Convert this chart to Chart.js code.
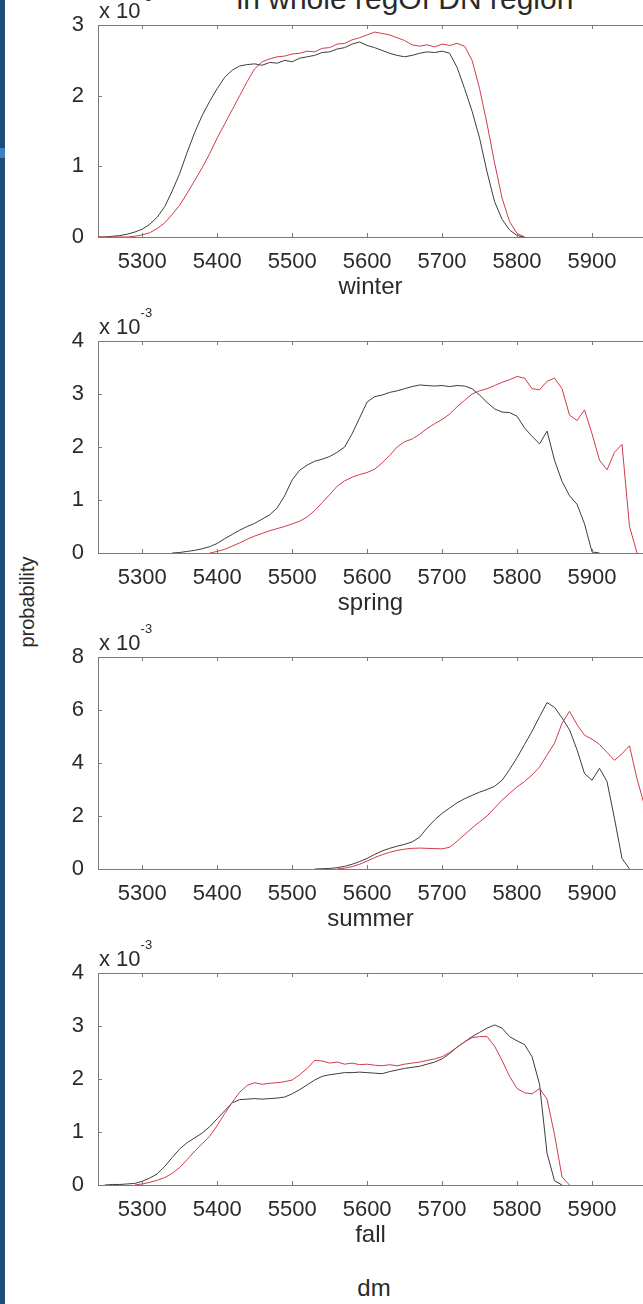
<!DOCTYPE html>
<html>
<head>
<meta charset="utf-8">
<title>probability by season</title>
<script src="https://cdn.jsdelivr.net/npm/chart.js@4.4.1/dist/chart.umd.min.js"></script>
<style>
    html, body { margin: 0; padding: 0; background: #fff; overflow: hidden; }
    #page { position: relative; width: 643px; height: 1304px; font-family: "Liberation Sans", Arial, sans-serif; color: #2a2a2a; }
    .strip { position: absolute; left: 0; top: 0; width: 5px; height: 1304px; background: #1e4d78; }
    .strip-light { position: absolute; left: 0; top: 148px; width: 5px; height: 10px; background: #3b82c4; }
    .panel { position: absolute; left: 0; width: 643px; height: 316px; }
    .panel canvas { position: absolute; left: 0; top: 0; }
    .expo { position: absolute; left: 99px; top: 0; font-size: 22px; line-height: 22px; white-space: nowrap; }
    .expo sup { position: relative; top: -17px; font-size: 13px; vertical-align: baseline; }
    .title { position: absolute; left: 205px; top: -16px; width: 400px; text-align: center; font-size: 30px; line-height: 30px; white-space: nowrap; }
    .ylab { position: absolute; left: 27px; top: 602px; transform: translate(-50%, -50%) rotate(-90deg); font-size: 20px; white-space: nowrap; }
    .xlab { position: absolute; left: 374px; top: 1288px; transform: translate(-50%, -50%); font-size: 24px; }
</style>
</head>
<body>
<div id="page">
    <div class="strip"></div>
    <div class="strip-light"></div>
    <div class="title">in whole regOf DN region</div>
    <div class="ylab">probability</div>
    <div class="xlab">dm</div>
</div>

<script>
// x grid (dm) shared by all four seasons
const dm = [
    5240, 5250, 5260, 5270, 5280, 5290, 5300, 5310, 5320, 5330,
    5340, 5350, 5360, 5370, 5380, 5390, 5400, 5410, 5420, 5430,
    5440, 5450, 5460, 5470, 5480, 5490, 5500, 5510, 5520, 5530,
    5540, 5550, 5560, 5570, 5580, 5590, 5600, 5610, 5620, 5630,
    5640, 5650, 5660, 5670, 5680, 5690, 5700, 5710, 5720, 5730,
    5740, 5750, 5760, 5770, 5780, 5790, 5800, 5810, 5820, 5830,
    5840, 5850, 5860, 5870, 5880, 5890, 5900, 5910, 5920, 5930,
    5940, 5950, 5960, 5970
];
const dmRange = [5241, 5968];
const dmTicks = [5300, 5400, 5500, 5600, 5700, 5800, 5900];
const seasons = ['winter', 'spring', 'summer', 'fall'];

// probability values, x 10^-3
const winterBlack = [
    0, 0, 0.01, 0.02, 0.04, 0.07, 0.11, 0.18, 0.28, 0.43,
    0.65, 0.90, 1.20, 1.48, 1.72, 1.92, 2.10, 2.26, 2.36, 2.42,
    2.44, 2.45, 2.43, 2.47, 2.46, 2.50, 2.48, 2.53, 2.55, 2.57,
    2.61, 2.62, 2.66, 2.68, 2.73, 2.76, 2.71, 2.68, 2.64, 2.60,
    2.57, 2.55, 2.57, 2.60, 2.62, 2.61, 2.63, 2.60, 2.40, 2.10,
    1.78, 1.40, 0.92, 0.50, 0.25, 0.10, 0.02, 0, null, null,
    null, null, null, null, null, null, null, null, null, null,
    null, null, null, null
];
const winterRed = [
    0, 0, 0, 0, 0, 0.01, 0.03, 0.06, 0.12, 0.20,
    0.32, 0.45, 0.62, 0.80, 0.98, 1.18, 1.40, 1.60, 1.80, 2.00,
    2.20, 2.38, 2.48, 2.52, 2.55, 2.56, 2.59, 2.60, 2.63, 2.62,
    2.67, 2.68, 2.73, 2.74, 2.79, 2.82, 2.86, 2.90, 2.88, 2.86,
    2.82, 2.78, 2.72, 2.70, 2.72, 2.69, 2.73, 2.71, 2.74, 2.70,
    2.50, 2.10, 1.60, 1.05, 0.55, 0.22, 0.05, 0, null, null,
    null, null, null, null, null, null, null, null, null, null,
    null, null, null, null
];
const springBlack = [
    null, null, null, null, null, null, null, null, null, null,
    0, 0.01, 0.03, 0.05, 0.08, 0.12, 0.18, 0.27, 0.35, 0.43,
    0.50, 0.56, 0.64, 0.72, 0.85, 1.08, 1.38, 1.56, 1.66, 1.73,
    1.77, 1.82, 1.90, 2.00, 2.25, 2.55, 2.85, 2.95, 2.98, 3.03,
    3.06, 3.10, 3.14, 3.17, 3.16, 3.15, 3.16, 3.14, 3.16, 3.15,
    3.10, 2.98, 2.84, 2.72, 2.66, 2.65, 2.58, 2.36, 2.20, 2.06,
    2.30, 1.75, 1.35, 1.08, 0.92, 0.55, 0.02, 0, null, null,
    null, null, null, null
];
const springRed = [
    null, null, null, null, null, null, null, null, null, null,
    null, null, null, null, null, 0, 0.03, 0.07, 0.13, 0.19,
    0.26, 0.32, 0.37, 0.42, 0.46, 0.50, 0.55, 0.60, 0.68, 0.80,
    0.95, 1.10, 1.26, 1.36, 1.43, 1.48, 1.52, 1.58, 1.70, 1.84,
    2.00, 2.10, 2.15, 2.24, 2.35, 2.44, 2.52, 2.62, 2.76, 2.88,
    3.00, 3.06, 3.10, 3.16, 3.22, 3.27, 3.33, 3.30, 3.10, 3.08,
    3.24, 3.30, 3.10, 2.60, 2.50, 2.70, 2.25, 1.75, 1.57, 1.90,
    2.05, 0.50, 0, null
];
const summerBlack = [
    null, null, null, null, null, null, null, null, null, null,
    null, null, null, null, null, null, null, null, null, null,
    null, null, null, null, null, null, null, null, null, 0,
    0.01, 0.02, 0.05, 0.10, 0.18, 0.28, 0.40, 0.55, 0.68, 0.78,
    0.86, 0.93, 1.02, 1.20, 1.55, 1.85, 2.10, 2.30, 2.50, 2.65,
    2.78, 2.90, 3.00, 3.12, 3.35, 3.75, 4.20, 4.70, 5.20, 5.75,
    6.28, 6.10, 5.70, 5.25, 4.50, 3.60, 3.35, 3.80, 3.30, 1.90,
    0.40, 0, null, null
];
const summerRed = [
    null, null, null, null, null, null, null, null, null, null,
    null, null, null, null, null, null, null, null, null, null,
    null, null, null, null, null, null, null, null, null, null,
    null, null, 0, 0.03, 0.09, 0.18, 0.30, 0.43, 0.54, 0.63,
    0.70, 0.75, 0.78, 0.79, 0.78, 0.77, 0.76, 0.82, 1.05, 1.30,
    1.55, 1.78, 2.00, 2.30, 2.60, 2.85, 3.10, 3.30, 3.55, 3.85,
    4.30, 4.75, 5.50, 5.95, 5.45, 5.05, 4.90, 4.70, 4.40, 4.10,
    4.35, 4.65, 3.40, 2.40
];
const fallBlack = [
    null, 0, 0.01, 0.01, 0.02, 0.03, 0.07, 0.13, 0.21, 0.35,
    0.52, 0.68, 0.80, 0.89, 0.98, 1.10, 1.25, 1.40, 1.55, 1.61,
    1.62, 1.63, 1.62, 1.63, 1.64, 1.66, 1.72, 1.80, 1.89, 1.98,
    2.05, 2.08, 2.10, 2.12, 2.12, 2.13, 2.12, 2.11, 2.10, 2.14,
    2.17, 2.20, 2.22, 2.24, 2.28, 2.32, 2.38, 2.48, 2.60, 2.70,
    2.80, 2.88, 2.96, 3.02, 2.96, 2.80, 2.72, 2.65, 2.42, 1.90,
    0.60, 0.08, 0, null, null, null, null, null, null, null,
    null, null, null, null
];
const fallRed = [
    null, null, null, null, null, 0, 0.02, 0.05, 0.09, 0.14,
    0.22, 0.33, 0.48, 0.64, 0.78, 0.92, 1.12, 1.35, 1.56, 1.75,
    1.88, 1.93, 1.90, 1.92, 1.93, 1.95, 1.98, 2.08, 2.20, 2.35,
    2.34, 2.30, 2.32, 2.28, 2.30, 2.27, 2.28, 2.26, 2.25, 2.27,
    2.25, 2.28, 2.30, 2.32, 2.35, 2.38, 2.42, 2.50, 2.60, 2.70,
    2.78, 2.80, 2.80, 2.62, 2.35, 2.05, 1.82, 1.74, 1.72, 1.82,
    1.62, 0.95, 0.15, 0, null, null, null, null, null, null,
    null, null, null, null
];

const yTicksWinter = [0, 1, 2, 3];
const yTicksSpring = [0, 1, 2, 3, 4];
const yTicksSummer = [0, 2, 4, 6, 8];
const yTicksFall = [0, 1, 2, 3, 4];

const panels = [
    { black: winterBlack, red: winterRed, yTicks: yTicksWinter },
    { black: springBlack, red: springRed, yTicks: yTicksSpring },
    { black: summerBlack, red: summerRed, yTicks: yTicksSummer },
    { black: fallBlack, red: fallRed, yTicks: yTicksFall }
];

const FONT = '"Liberation Sans", Arial, sans-serif';
const textColor = '#2a2a2a';
const axisColor = '#7a7a7a';
const blackLine = '#3c3c3c';
const redLine = '#d23a4a';

const toPoints = vals => dm.map((x, i) => ({ x: x, y: vals[i] }));

// top frame line and inward tick marks, like the original plot
const frameTicks = {
    id: 'frameTicks',
    afterDraw(chart) {
        const { ctx, chartArea: a, scales: { x, y } } = chart;
        const len = 4;
        ctx.save();
        ctx.strokeStyle = axisColor;
        ctx.lineWidth = 1;
        ctx.beginPath();
        ctx.moveTo(a.left, Math.round(a.top) + 0.5);
        ctx.lineTo(a.right, Math.round(a.top) + 0.5);
        x.ticks.forEach(t => {
            const px = Math.round(x.getPixelForValue(t.value)) + 0.5;
            ctx.moveTo(px, a.bottom);
            ctx.lineTo(px, a.bottom - len);
            ctx.moveTo(px, a.top);
            ctx.lineTo(px, a.top + len);
        });
        y.ticks.forEach(t => {
            const py = Math.round(y.getPixelForValue(t.value)) + 0.5;
            ctx.moveTo(a.left, py);
            ctx.lineTo(a.left + len, py);
        });
        ctx.stroke();
        ctx.restore();
    }
};

const page = document.getElementById('page');

panels.forEach((p, i) => {
    const box = document.createElement('div');
    box.className = 'panel';
    box.style.top = (316 * i) + 'px';
    const canvas = document.createElement('canvas');
    canvas.width = 643;
    canvas.height = 316;
    box.appendChild(canvas);
    const expo = document.createElement('div');
    expo.className = 'expo';
    expo.innerHTML = 'x 10<sup>-3</sup>';
    box.appendChild(expo);
    page.appendChild(box);

    new Chart(canvas.getContext('2d'), {
        type: 'line',
        data: {
            datasets: [{
                data: toPoints(p.black),
                borderColor: blackLine,
                borderWidth: 1,
                pointRadius: 0,
                tension: 0,
                order: 1
            }, {
                data: toPoints(p.red),
                borderColor: redLine,
                borderWidth: 1,
                pointRadius: 0,
                tension: 0,
                order: 0
            }]
        },
        options: {
            responsive: false,
            animation: false,
            events: [],
            layout: { padding: { top: 25, left: 0, right: 0, bottom: 0 } },
            plugins: { legend: { display: false }, tooltip: { enabled: false } },
            scales: {
                x: {
                    type: 'linear',
                    min: dmRange[0],
                    max: dmRange[1],
                    grid: { display: false },
                    border: { display: true, color: axisColor, width: 1 },
                    afterBuildTicks: s => { s.ticks = dmTicks.map(v => ({ value: v })); },
                    afterFit: s => { s.height = 79; },
                    ticks: {
                        color: textColor,
                        font: { family: FONT, size: 22 },
                        padding: 4,
                        maxRotation: 0,
                        autoSkip: false,
                        callback: v => String(v)
                    },
                    title: {
                        display: true,
                        text: seasons[i],
                        color: textColor,
                        font: { family: FONT, size: 24 },
                        padding: { top: 0, bottom: 14 }
                    }
                },
                y: {
                    min: p.yTicks[0],
                    max: p.yTicks[p.yTicks.length - 1],
                    grid: { display: false },
                    border: { display: true, color: axisColor, width: 1 },
                    afterBuildTicks: s => { s.ticks = p.yTicks.map(v => ({ value: v })); },
                    afterFit: s => { s.width = 98; },
                    ticks: {
                        color: textColor,
                        font: { family: FONT, size: 22 },
                        padding: 6,
                        callback: v => String(v)
                    }
                }
            }
        },
        plugins: [frameTicks]
    });
});
</script>
</body>
</html>
